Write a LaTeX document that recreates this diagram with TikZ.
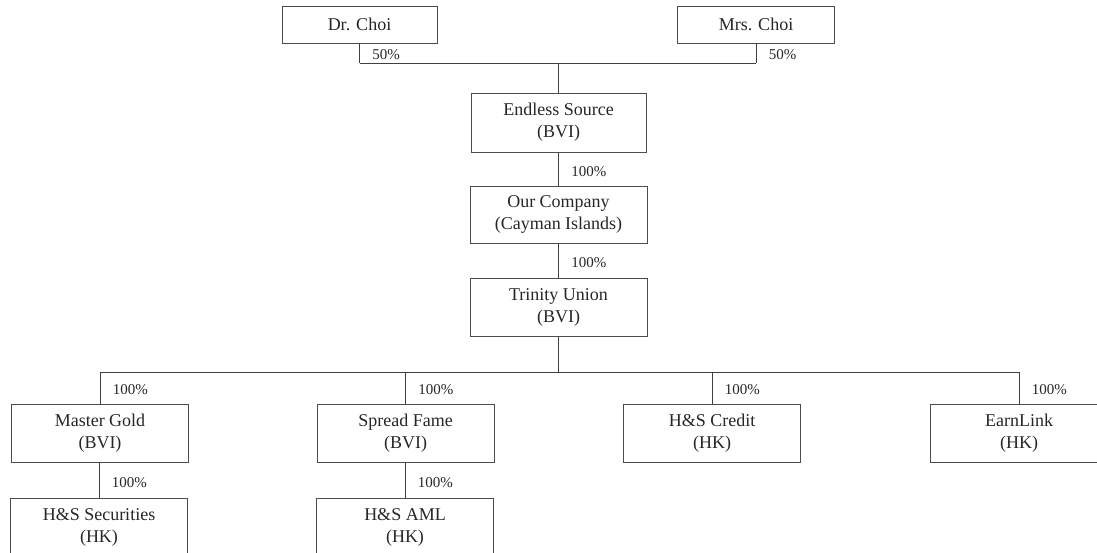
\documentclass[tikz,border=0pt]{standalone}
\usepackage{fontspec}
\setmainfont{Liberation Serif}
\usetikzlibrary{positioning, calc}

\begin{document}
\begin{tikzpicture}[
    x=1pt, y=-1pt,
    entity/.style={draw=black!70, line width=0.8pt, minimum height=58pt, minimum width=177pt,
        inner sep=0pt, align=center, text=black!85, font=\fontsize{18}{22}\selectfont},
    owner/.style={entity, minimum height=37pt, minimum width=155pt},
    link/.style={draw=black!75, line width=0.8pt},
    pct/.style={font=\fontsize{15}{18}\selectfont, text=black!85, inner sep=0pt,
        anchor=west, xshift=12.5pt, pos=0.43}
]
    \useasboundingbox (0,0) rectangle (1097,553);
    \clip (0,0) rectangle (1097,553);

    % Shareholders
    \node[owner] (drchoi) at (359.5,24.5) {Dr. Choi};
    \node[owner, minimum width=157pt] (mrschoi) at (756,24.5) {Mrs. Choi};
    \coordinate (jointop) at (558.5,63);

    % Holding chain
    \node[entity, minimum width=175pt, minimum height=59pt] (endless) at (558.5,122.5) {Endless Source\\(BVI)};
    \node[entity, minimum height=57pt] (ourco) at (558.5,214.5) {Our Company\\(Cayman Islands)};
    \node[entity] (trinity) at (558.5,307) {Trinity Union\\(BVI)};
    \coordinate (bus) at (558.5,372);

    % Subsidiaries of Trinity Union
    \node[entity] (masterg) at (100,433) {Master Gold\\(BVI)};
    \node[entity] (spreadf) at (405.5,433) {Spread Fame\\(BVI)};
    \node[entity] (hscredit) at (712,433) {H\&S Credit\\(HK)};
    \node[entity] (earnlink) at (1019,433) {EarnLink\\(HK)};

    % Second level subsidiaries
    \node[entity] (hssec) at (99,527) {H\&S Securities\\(HK)};
    \node[entity] (hsaml) at (405,527) {H\&S AML\\(HK)};

    % Connectors - shareholders
    \draw[link] (drchoi.south |- jointop) -- (drchoi.south) node[pct] {50\%};
    \draw[link] (mrschoi.south |- jointop) -- (mrschoi.south) node[pct] {50\%};
    \draw[link] (drchoi.south |- jointop) -- (mrschoi.south |- jointop);
    \draw[link] (jointop) -- (endless.north);

    % Connectors - chain
    \draw[link] (ourco.north) -- (endless.south) node[pct] {100\%};
    \draw[link] (trinity.north) -- (ourco.south) node[pct] {100\%};
    \draw[link] (trinity.south) -- (bus);
    \draw[link] (masterg.north |- bus) -- (earnlink.north |- bus);
    \foreach \sub in {masterg, spreadf, hscredit, earnlink}
        \draw[link] (\sub.north) -- (\sub.north |- bus) node[pct] {100\%};

    % Connectors - second level
    \draw[link] (hssec.north) -- (hssec.north |- masterg.south) node[pct] {100\%};
    \draw[link] (hsaml.north) -- (hsaml.north |- spreadf.south) node[pct] {100\%};
\end{tikzpicture}
\end{document}
